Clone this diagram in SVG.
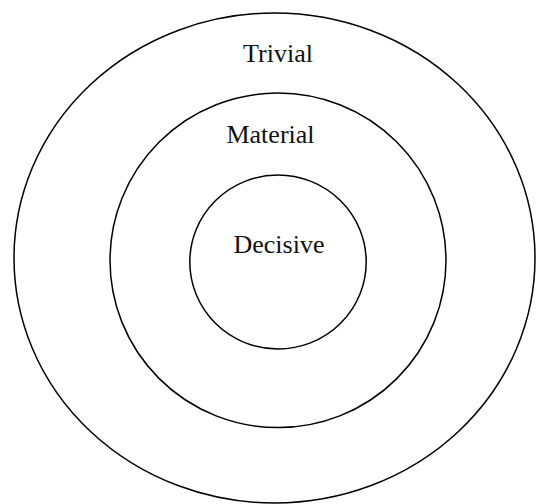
<svg xmlns="http://www.w3.org/2000/svg" width="536" height="504" viewBox="0 0 536 504">
<style>
.ring{fill:none;stroke:#000;stroke-width:1.5}
.lbl{font-family:"Liberation Serif","Times New Roman",serif;font-size:26px;fill:#111;text-anchor:middle}
</style>
<rect width="536" height="504" fill="#fff"/>
<g id="trivial">
<ellipse class="ring" cx="274.5" cy="258" rx="260.5" ry="245"/>
<text class="lbl" x="278" y="62">Trivial</text>
</g>
<g id="material">
<ellipse class="ring" cx="278" cy="260.3" rx="168" ry="167.3"/>
<text class="lbl" x="270.5" y="142.5">Material</text>
</g>
<g id="decisive">
<ellipse class="ring" cx="278" cy="262" rx="88.2" ry="87"/>
<text class="lbl" x="279" y="252.5">Decisive</text>
</g>
<g id="connectors"/>
</svg>
